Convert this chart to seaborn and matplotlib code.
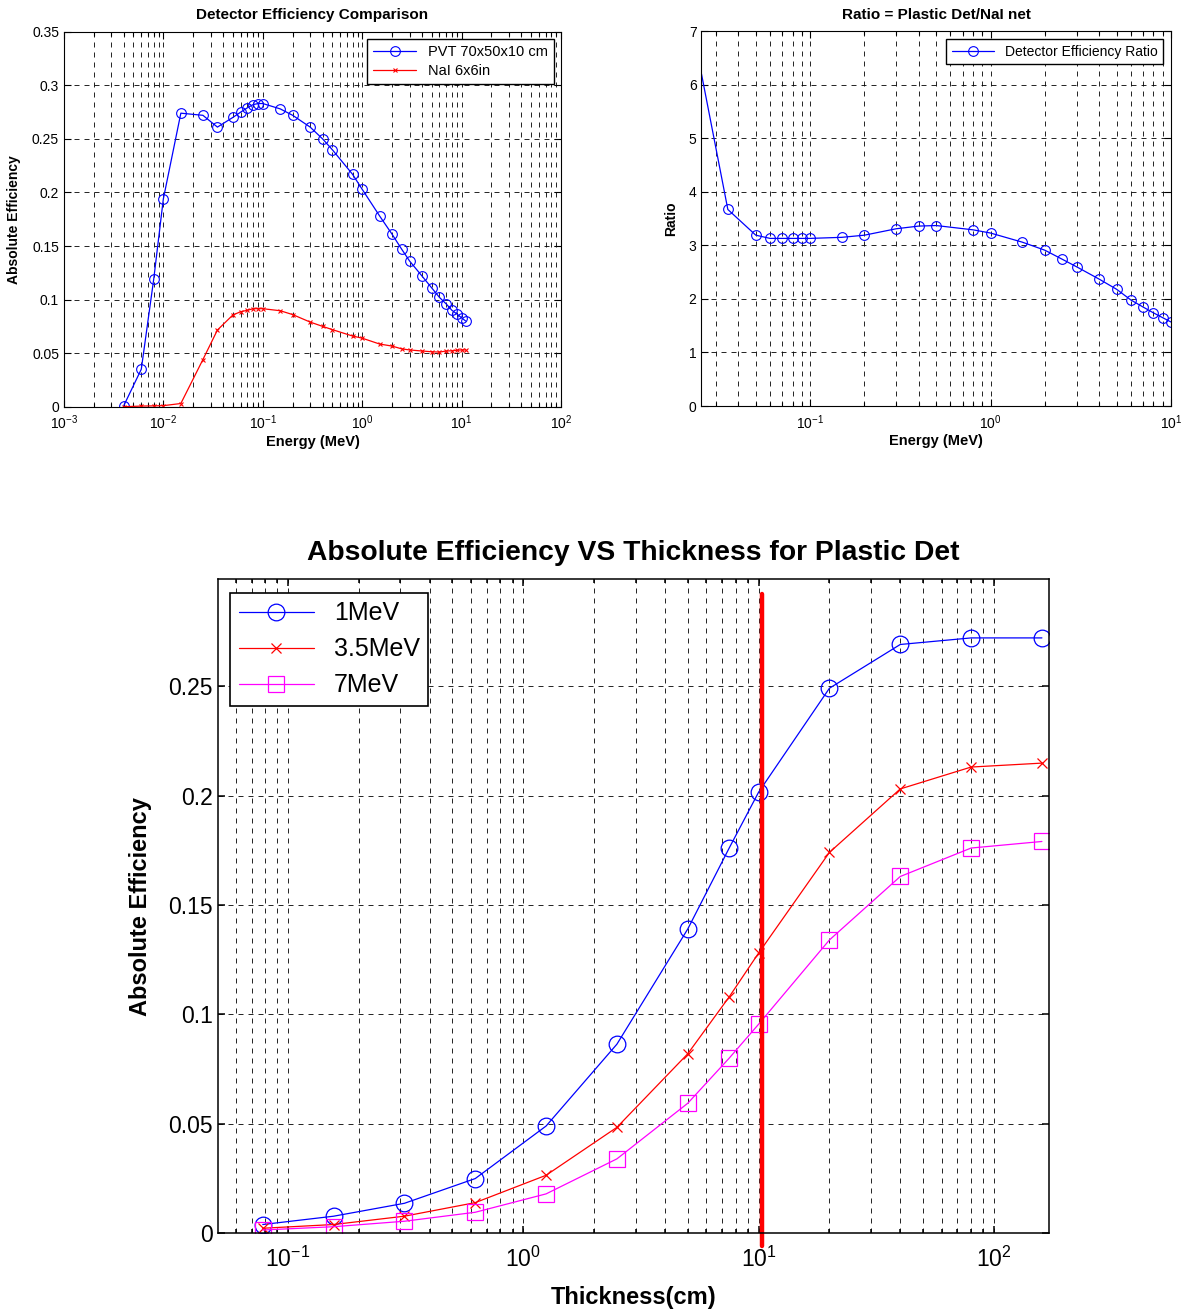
import matplotlib
matplotlib.use("Agg")
import matplotlib.pyplot as plt
import seaborn as sns
import pandas as pd
from matplotlib.ticker import LogLocator, FuncFormatter, NullFormatter, MultipleLocator

# --- top left: efficiency vs energy
energy = [0.004, 0.006, 0.008, 0.01, 0.015, 0.025, 0.035, 0.05, 0.06, 0.07, 0.08, 0.09, 0.1,
          0.15, 0.2, 0.3, 0.4, 0.5, 0.8, 1, 1.5, 2, 2.5, 3, 4, 5, 6, 7, 8, 9, 10, 11]
pvt_eff = [0.001, 0.035, 0.119, 0.194, 0.274, 0.272, 0.261, 0.270, 0.275, 0.279, 0.282, 0.283, 0.283,
           0.278, 0.272, 0.261, 0.250, 0.240, 0.217, 0.203, 0.178, 0.161, 0.147, 0.136, 0.122, 0.111,
           0.102, 0.096, 0.090, 0.0865, 0.083, 0.080]
nai_eff = [0.0, 0.0006, 0.0008, 0.001, 0.003, 0.044, 0.0716, 0.0856, 0.0887, 0.090, 0.0915, 0.0915, 0.0915,
           0.0896, 0.086, 0.079, 0.075, 0.072, 0.066, 0.064, 0.0585, 0.0566, 0.054, 0.053, 0.052, 0.0513,
           0.051, 0.052, 0.0522, 0.0527, 0.053, 0.053]

# --- top right: ratio
ratio_energy = [0.025, 0.035, 0.05, 0.06, 0.07, 0.08, 0.09, 0.1, 0.15, 0.2, 0.3, 0.4, 0.5, 0.8, 1,
                1.5, 2, 2.5, 3, 4, 5, 6, 7, 8, 9, 10]
ratio = [6.2, 3.67, 3.19, 3.13, 3.13, 3.13, 3.13, 3.13, 3.15, 3.19, 3.31, 3.36, 3.37, 3.29, 3.23,
         3.06, 2.91, 2.74, 2.60, 2.37, 2.18, 1.98, 1.85, 1.74, 1.65, 1.57]

# --- bottom: efficiency vs thickness
thickness = [0.078125, 0.15625, 0.3125, 0.625, 1.25, 2.5, 5, 7.5, 10, 20, 40, 80, 160]
eff_1mev = [0.004, 0.0078, 0.0137, 0.025, 0.049, 0.0864, 0.139, 0.176, 0.2015, 0.249, 0.269, 0.272, 0.272]
eff_35mev = [0.0023, 0.004, 0.0078, 0.014, 0.0265, 0.0484, 0.082, 0.108, 0.128, 0.174, 0.203, 0.213, 0.2148]
eff_7mev = [0.0015, 0.003, 0.0055, 0.0096, 0.018, 0.034, 0.0594, 0.080, 0.0955, 0.134, 0.163, 0.176, 0.179]
cut_thickness = [10.3, 10.3]
cut_eff = [-0.006, 0.292]

sns.set_style("ticks")
plt.rcParams['font.family'] = ['Liberation Sans', 'DejaVu Sans']
plt.rcParams['axes.unicode_minus'] = False
for key in ['text.color', 'axes.labelcolor', 'xtick.color', 'ytick.color', 'axes.edgecolor']:
    plt.rcParams[key] = 'black'

fig = plt.figure(figsize=(11.93, 13.12), dpi=100)
ax1 = fig.add_axes([0.0536, 0.690, 0.4166, 0.2858])
ax2 = fig.add_axes([0.588, 0.6905, 0.3935, 0.2858])
ax3 = fig.add_axes([0.1827, 0.06, 0.6966, 0.4985])

gformat = FuncFormatter(lambda v, p: '%g' % v)


def matlab_look(ax, fs, lw=0.8, pad=3.5):
    ax.set_xscale('log')
    ax.xaxis.set_major_locator(LogLocator(base=10, numticks=20))
    ax.xaxis.set_minor_locator(LogLocator(base=10, subs=range(2, 10), numticks=100))
    ax.xaxis.set_minor_formatter(NullFormatter())
    ax.tick_params(which='both', direction='in', top=True, right=True, labelsize=fs,
                   color='k', labelcolor='k', width=lw)
    ax.tick_params(which='major', length=5)
    ax.tick_params(which='minor', length=3)
    ax.tick_params(axis='x', which='major', pad=pad)
    ax.grid(True, which='both', axis='x', color='k', lw=0.6, ls=(0, (6, 6)))
    ax.grid(True, which='major', axis='y', color='k', lw=0.6, ls=(0, (6, 6)))
    for s in ax.spines.values():
        s.set_linewidth(lw)
        s.set_color('k')
        s.set_visible(True)


def legend_box(ax, fs, loc, anchor):
    leg = ax.legend(loc=loc, bbox_to_anchor=anchor, borderaxespad=0, fontsize=fs,
                    fancybox=False, edgecolor='k', framealpha=1, handlelength=3.0,
                    labelspacing=0.35, borderpad=0.4)
    leg.get_frame().set_linewidth(1.0)
    return leg


# top left
sns.lineplot(x=energy, y=pvt_eff, ax=ax1, color='b', lw=0.9, marker='o', ms=7,
             mfc='none', mec='b', mew=0.8, label='PVT 70x50x10 cm')
sns.lineplot(x=energy, y=nai_eff, ax=ax1, color='r', lw=0.9, marker='x', ms=3.5,
             mec='r', mew=0.8, label='NaI 6x6in')
matlab_look(ax1, 10, pad=5)
ax1.set_xlim(1e-3, 1e2)
ax1.set_ylim(0, 0.35)
ax1.yaxis.set_major_locator(MultipleLocator(0.05))
ax1.yaxis.set_major_formatter(gformat)
ax1.set_title('Detector Efficiency Comparison', fontsize=11, fontweight='bold', pad=9)
ax1.set_xlabel('Energy (MeV)', fontsize=10.5, fontweight='bold', labelpad=2)
ax1.set_ylabel('Absolute Efficiency', fontsize=10, fontweight='bold', labelpad=8)
legend_box(ax1, 10.5, 'upper right', (0.986, 0.981))

# top right
sns.lineplot(x=ratio_energy, y=ratio, ax=ax2, color='b', lw=0.9, marker='o', ms=7,
             mfc='none', mec='b', mew=0.8, markevery=list(range(1, len(ratio))),
             label='Detector Efficiency Ratio')
matlab_look(ax2, 10, pad=5)
ax2.set_xlim(0.025, 10)
ax2.set_ylim(0, 7)
ax2.yaxis.set_major_locator(MultipleLocator(1))
ax2.yaxis.set_major_formatter(gformat)
ax2.set_title('Ratio = Plastic Det/NaI net', fontsize=11, fontweight='bold', pad=9)
ax2.set_xlabel('Energy (MeV)', fontsize=10.5, fontweight='bold', labelpad=2)
ax2.set_ylabel('Ratio', fontsize=10, fontweight='bold', labelpad=8)
legend_box(ax2, 10, 'upper right', (0.983, 0.979))

# bottom
sns.lineplot(x=thickness, y=eff_1mev, ax=ax3, color='b', lw=0.9, marker='o', ms=12,
             mfc='none', mec='b', mew=0.9, label='1MeV')
sns.lineplot(x=thickness, y=eff_35mev, ax=ax3, color='r', lw=0.9, marker='x', ms=6.5,
             mec='r', mew=0.9, label='3.5MeV')
sns.lineplot(x=thickness, y=eff_7mev, ax=ax3, color='#ff00ff', lw=0.9, marker='s', ms=11,
             mfc='none', mec='#ff00ff', mew=0.9, label='7MeV')
sns.lineplot(x=cut_thickness, y=cut_eff, ax=ax3, color='r', lw=3.2, estimator=None,
             sort=False, clip_on=False)
matlab_look(ax3, 16.5, lw=1.1, pad=10)
ax3.set_xlim(0.0504, 171.5)
ax3.set_ylim(0, 0.2988)
ax3.set_yticks([0, 0.05, 0.1, 0.15, 0.2, 0.25])
ax3.yaxis.set_major_formatter(gformat)
ax3.set_title('Absolute Efficiency VS Thickness for Plastic Det', fontsize=20.3,
              fontweight='bold', pad=14)
ax3.set_xlabel('Thickness(cm)', fontsize=17, fontweight='bold', labelpad=10)
ax3.set_ylabel('Absolute Efficiency', fontsize=17, fontweight='bold', labelpad=12)
handles, labels = ax3.get_legend_handles_labels()
leg = ax3.legend(handles[:3], labels[:3], loc='upper left', bbox_to_anchor=(0.0144, 0.9795),
                 borderaxespad=0, fontsize=18, fancybox=False, edgecolor='k', framealpha=1,
                 handlelength=3.0, labelspacing=0.48, borderpad=0.35)
leg.get_frame().set_linewidth(1.2)

fig.savefig('out.png', dpi=100)
